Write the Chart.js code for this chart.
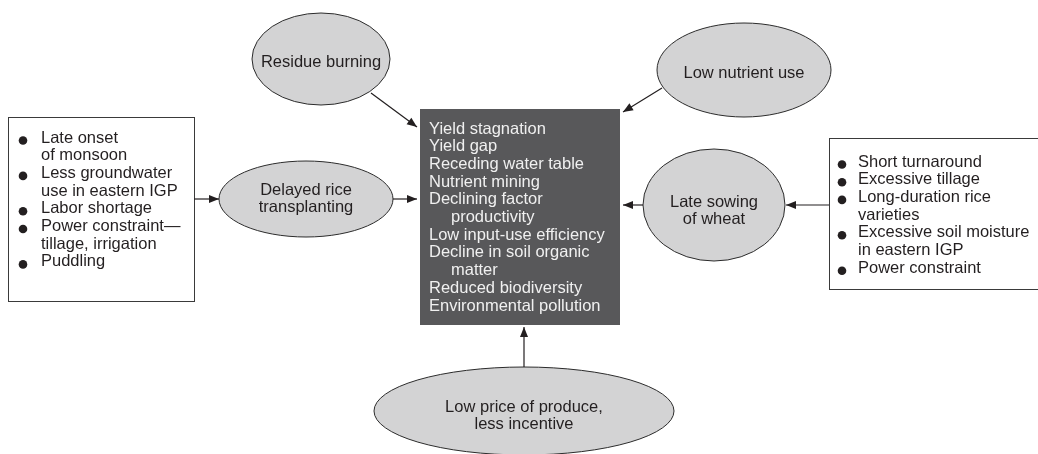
<!DOCTYPE html>
<html>
<head>
<meta charset="utf-8">
<script src="https://cdn.jsdelivr.net/npm/chart.js@4"></script>
<style>
html,body{margin:0;padding:0;background:#fff;}
#wrap{width:1038px;height:454px;}
</style>
</head>
<body>
<div id="wrap"><canvas id="c" width="1038" height="454"></canvas></div>
<script>
// ---- content (text) ----
const residueLabel = ["Residue burning"];
const lowNutrientLabel = ["Low nutrient use"];
const delayedLabel = ["Delayed rice", "transplanting"];
const lateSowingLabel = ["Late sowing", "of wheat"];
const lowPriceLabel = ["Low price of produce,", "less incentive"];
const centralIssues = ["Yield stagnation", "Yield gap", "Receding water table", "Nutrient mining",
  "Declining factor", "productivity", "Low input-use efficiency", "Decline in soil organic",
  "matter", "Reduced biodiversity", "Environmental pollution"];
const centralIndented = [false, false, false, false, false, true, false, false, true, false, false];
const riceCauses = ["Late onset", "of monsoon", "Less groundwater", "use in eastern IGP", "Labor shortage",
  "Power constraint\u2014", "tillage, irrigation", "Puddling"];
const riceBullets = [true, false, true, false, true, true, false, true];
const wheatCauses = ["Short turnaround", "Excessive tillage", "Long-duration rice", "varieties",
  "Excessive soil moisture", "in eastern IGP", "Power constraint"];
const wheatBullets = [true, true, true, false, true, false, true];

// ---- layout (diagram coordinates) ----
const ellipses = [
  {label: residueLabel, cx: 321, cy: 59, rx: 69, ry: 46, ty: 62},
  {label: lowNutrientLabel, cx: 744, cy: 70, rx: 87, ry: 47, ty: 73},
  {label: delayedLabel, cx: 306, cy: 199, rx: 87, ry: 38, ty: 190},
  {label: lateSowingLabel, cx: 714, cy: 205, rx: 71, ry: 56, ty: 202},
  {label: lowPriceLabel, cx: 524, cy: 411, rx: 150, ry: 44, ty: 407}
];
const boxes = [
  {x0: 8, y0: 117, x1: 194, y1: 301, lines: riceCauses, bullets: riceBullets, bx: 23, tx: 41, ty: 138},
  {x0: 829, y0: 138, x1: 1045, y1: 289, lines: wheatCauses, bullets: wheatBullets, bx: 842, tx: 858, ty: 162}
];
const centralBox = {x0: 420, y0: 109, x1: 620, y1: 325, tx: 429, indentX: 451, ty: 129};
const links = [
  [[194, 199], [219, 199]],
  [[393, 199], [417, 199]],
  [[371, 93], [417, 127]],
  [[662, 88], [623, 112]],
  [[643, 205], [623, 205]],
  [[829, 205], [786, 205]],
  [[524, 367], [524, 327]]
];
const LINE_H = 17.7;
const FONT = '16.5px "Liberation Sans", Arial, sans-serif';
const INK = '#231f20';

const diagramPlugin = {
  id: 'diagram',
  beforeDatasetsDraw(chart) {
    const {ctx, scales: {x, y}} = chart;
    ctx.save();
    // side boxes
    boxes.forEach(b => {
      const px0 = x.getPixelForValue(b.x0), py0 = y.getPixelForValue(b.y0);
      const px1 = x.getPixelForValue(b.x1), py1 = y.getPixelForValue(b.y1);
      ctx.fillStyle = '#ffffff';
      ctx.fillRect(px0, py0, px1 - px0, py1 - py0);
      ctx.strokeStyle = '#3a3a3a';
      ctx.lineWidth = 1;
      ctx.strokeRect(Math.round(px0) + 0.5, Math.round(py0) + 0.5, px1 - px0, py1 - py0);
      ctx.font = FONT;
      ctx.textBaseline = 'middle';
      ctx.textAlign = 'left';
      b.lines.forEach((t, i) => {
        const ly = y.getPixelForValue(b.ty + i * LINE_H);
        ctx.fillStyle = INK;
        ctx.fillText(t, x.getPixelForValue(b.tx), ly);
        if (b.bullets[i]) {
          ctx.beginPath();
          ctx.arc(x.getPixelForValue(b.bx), ly + 2.5, 4.3, 0, Math.PI * 2);
          ctx.fill();
        }
      });
    });
    // central box
    const c = centralBox;
    const cx0 = x.getPixelForValue(c.x0), cy0 = y.getPixelForValue(c.y0);
    ctx.fillStyle = '#58585a';
    ctx.fillRect(cx0, cy0, x.getPixelForValue(c.x1) - cx0, y.getPixelForValue(c.y1) - cy0);
    ctx.font = FONT;
    ctx.textBaseline = 'middle';
    ctx.textAlign = 'left';
    ctx.fillStyle = '#f0f0f0';
    centralIssues.forEach((t, i) => {
      const tx = centralIndented[i] ? c.indentX : c.tx;
      ctx.fillText(t, x.getPixelForValue(tx), y.getPixelForValue(c.ty + i * LINE_H));
    });
    // ellipses
    ellipses.forEach(e => {
      ctx.beginPath();
      ctx.ellipse(x.getPixelForValue(e.cx), y.getPixelForValue(e.cy),
        Math.abs(x.getPixelForValue(e.rx) - x.getPixelForValue(0)),
        Math.abs(y.getPixelForValue(e.ry) - y.getPixelForValue(0)), 0, 0, Math.PI * 2);
      ctx.fillStyle = '#d3d3d4';
      ctx.fill();
      ctx.strokeStyle = '#2b2b2b';
      ctx.lineWidth = 1;
      ctx.stroke();
      ctx.fillStyle = INK;
      ctx.textAlign = 'center';
      ctx.textBaseline = 'middle';
      e.label.forEach((t, i) => {
        ctx.fillText(t, x.getPixelForValue(e.cx), y.getPixelForValue(e.ty + i * LINE_H));
      });
    });
    ctx.restore();
  },
  afterDatasetsDraw(chart) {
    const {ctx, scales: {x, y}} = chart;
    ctx.save();
    ctx.fillStyle = INK;
    links.forEach(l => {
      const ax = x.getPixelForValue(l[0][0]), ay = y.getPixelForValue(l[0][1]);
      const bx = x.getPixelForValue(l[1][0]), by = y.getPixelForValue(l[1][1]);
      const ang = Math.atan2(by - ay, bx - ax);
      const len = 10, hw = 4;
      ctx.beginPath();
      ctx.moveTo(bx, by);
      ctx.lineTo(bx - len * Math.cos(ang) + hw * Math.sin(ang), by - len * Math.sin(ang) - hw * Math.cos(ang));
      ctx.lineTo(bx - len * Math.cos(ang) - hw * Math.sin(ang), by - len * Math.sin(ang) + hw * Math.cos(ang));
      ctx.closePath();
      ctx.fill();
    });
    ctx.restore();
  }
};

const datasets = links.map(l => ({
  data: [{x: l[0][0], y: l[0][1]}, {x: l[1][0], y: l[1][1]}],
  showLine: true,
  borderColor: INK,
  borderWidth: 1.2,
  pointRadius: 0,
  fill: false
}));

new Chart(document.getElementById('c'), {
  type: 'scatter',
  data: {datasets},
  options: {
    responsive: false,
    animation: false,
    devicePixelRatio: 1,
    layout: {padding: 0},
    plugins: {legend: {display: false}, tooltip: {enabled: false}},
    scales: {
      x: {type: 'linear', min: 0, max: 1038, display: false},
      y: {type: 'linear', min: 0, max: 454, reverse: true, display: false}
    }
  },
  plugins: [diagramPlugin]
});
</script>
</body>
</html>
